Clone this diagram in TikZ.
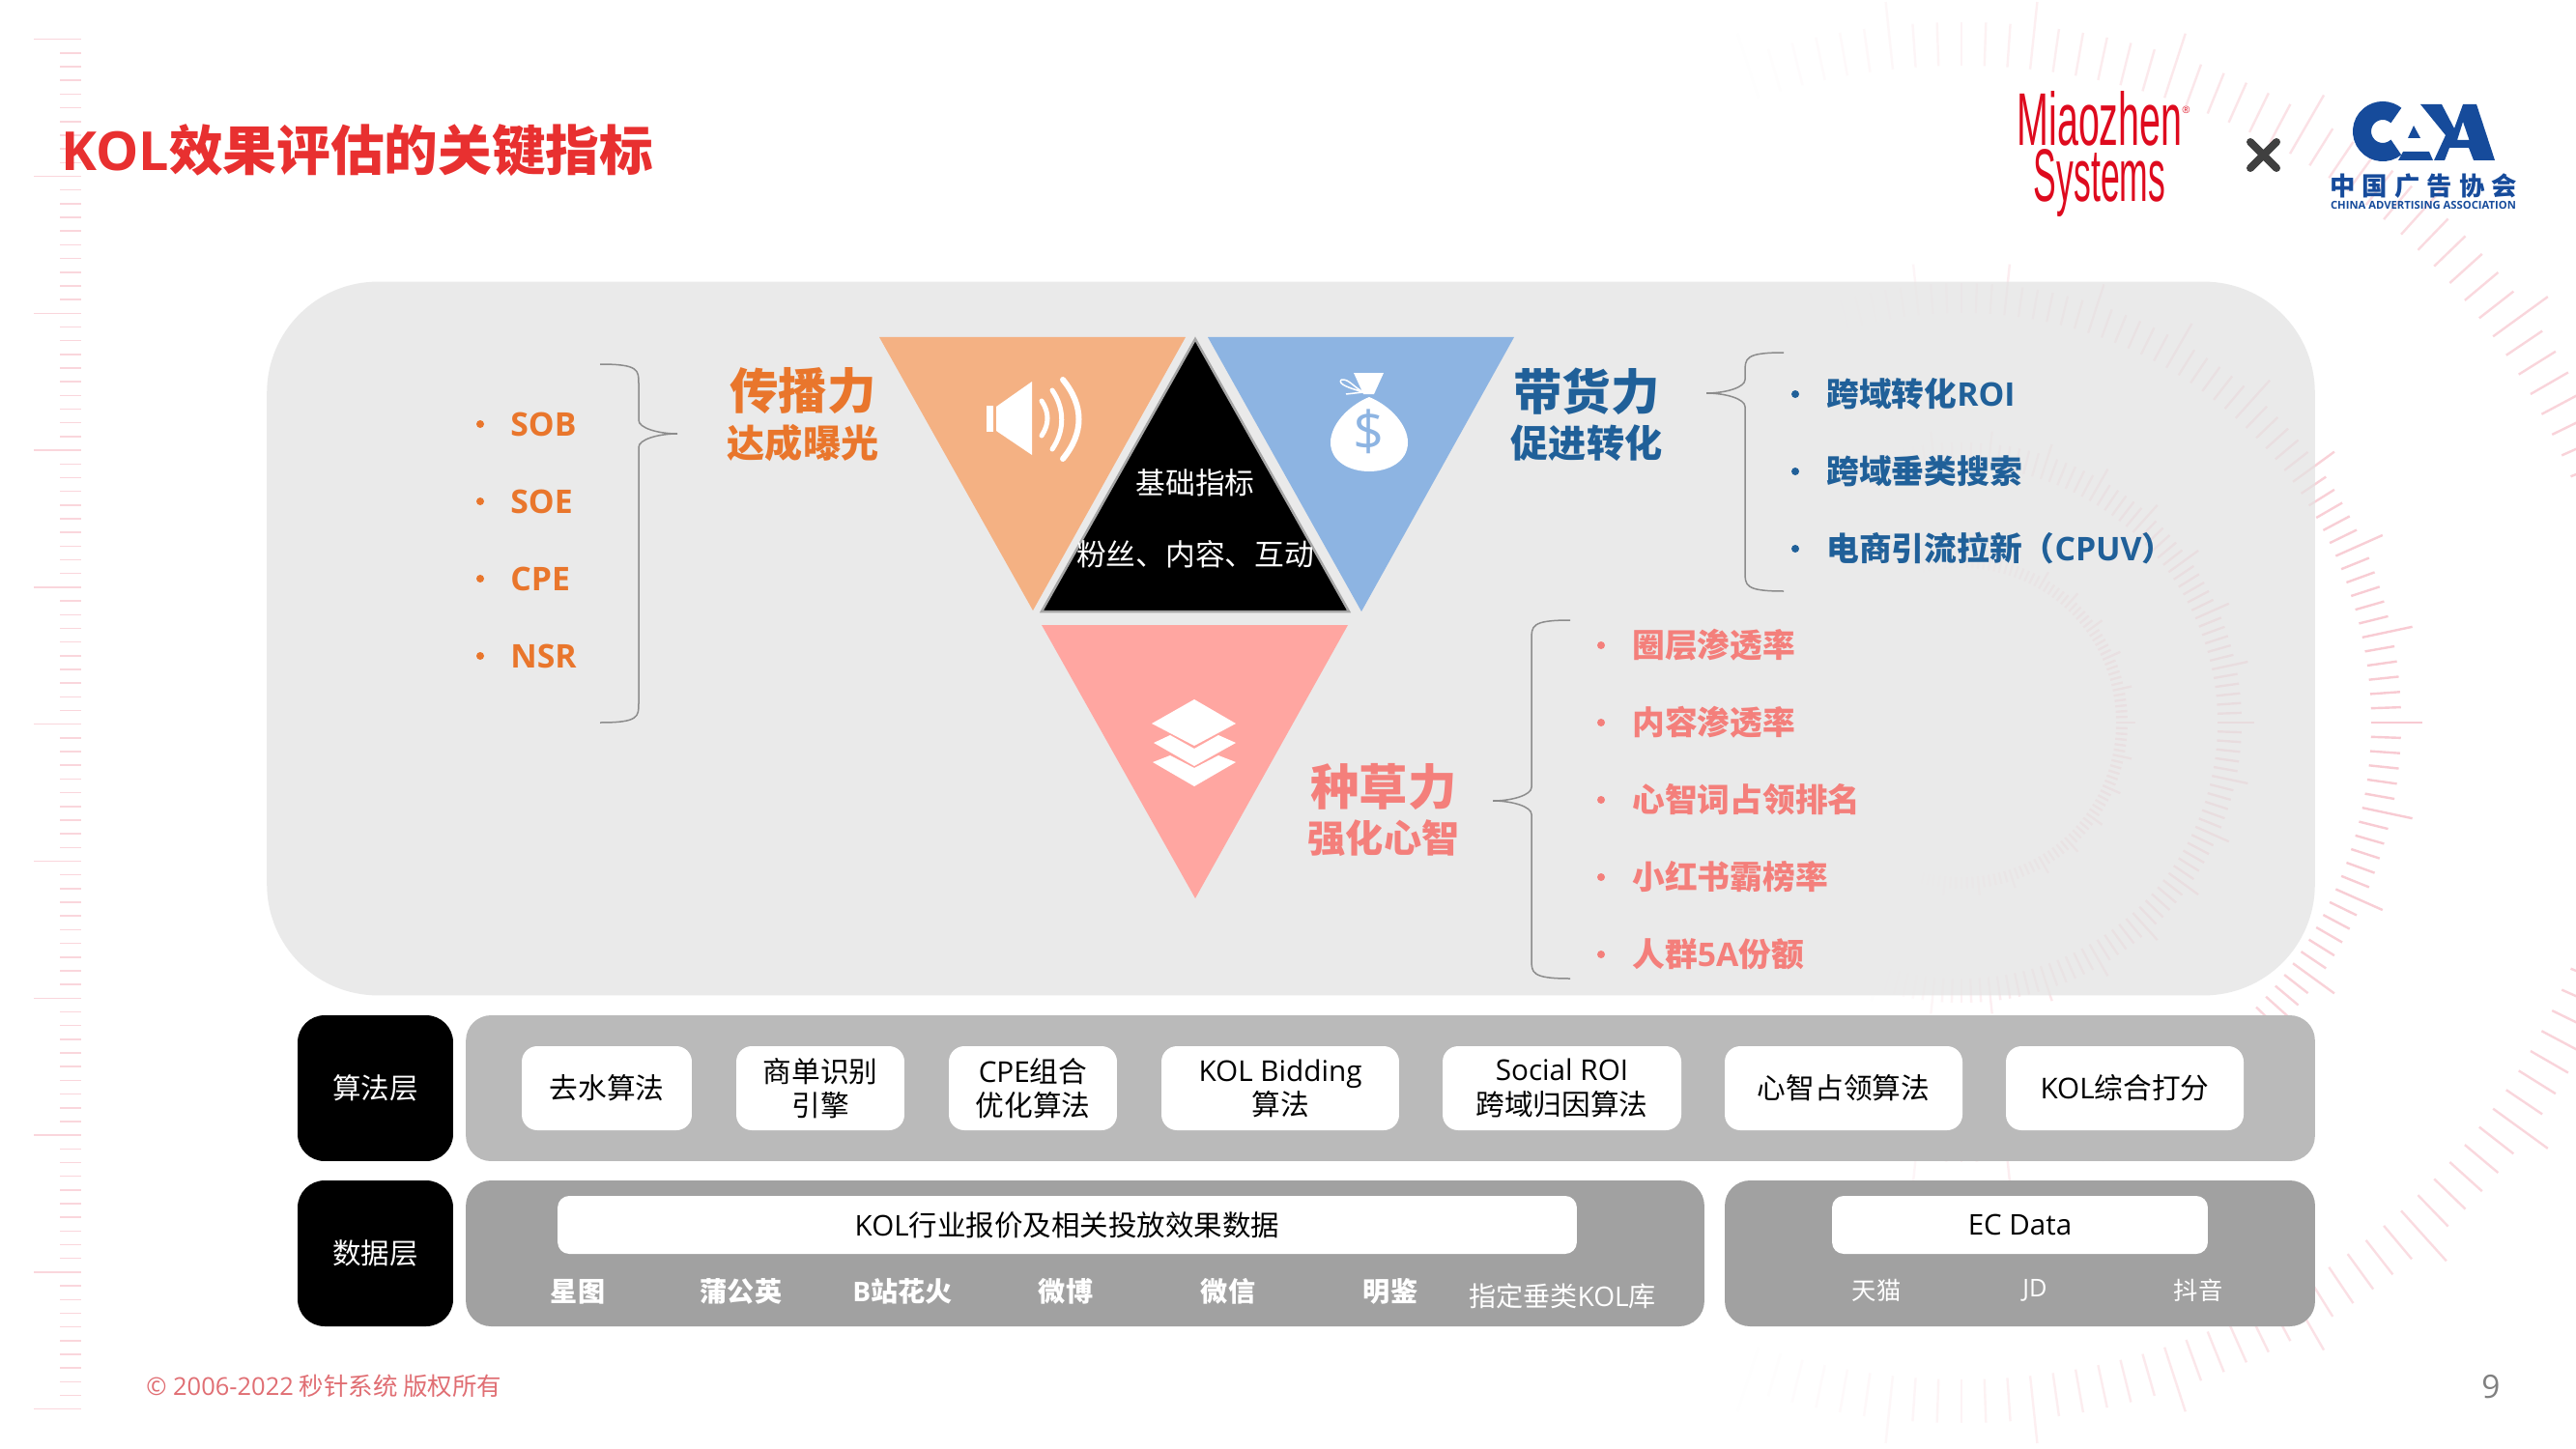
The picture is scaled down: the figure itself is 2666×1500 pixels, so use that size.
\documentclass[tikz,border=0pt]{standalone}
\usepackage{fontspec}
\setmainfont{Noto Sans CJK SC}
\newfontfamily\osans{Open Sans}
\newfontfamily\lsans{Liberation Sans}
\usetikzlibrary{positioning}
\definecolor{kolred}{RGB}{232,48,48}
\definecolor{kolorange}{RGB}{233,118,44}
\definecolor{kolblue}{RGB}{32,96,153}
\definecolor{kolpink}{RGB}{244,127,123}
\definecolor{caablue}{RGB}{22,75,155}
\definecolor{mzred}{RGB}{222,10,30}
\definecolor{ticka}{RGB}{248,200,208}
\definecolor{tripeach}{RGB}{244,177,131}
\definecolor{trisky}{RGB}{141,180,226}
\definecolor{trirose}{RGB}{255,166,161}
\newcommand{\kolbrace}[6]{\draw[bracket] (#1,#4) .. controls (#2,#4) and (#2,#4+6) .. (#2,#4+20) -- (#2,#5-14) .. controls (#2,#5-6) and (#2*0.5+#3*0.5,#5) .. (#3,#5) .. controls (#2*0.5+#3*0.5,#5) and (#2,#5+6) .. (#2,#5+14) -- (#2,#6-20) .. controls (#2,#6-6) and (#2,#6) .. (#1,#6);}
\tikzset{bracket/.style={draw=gray!90, line width=0.03cm}}
\tikzset{kpi/.style={anchor=west, inner sep=0pt, text height=14.6pt, text depth=0pt, font=\fontsize{19.2}{20}\selectfont\bfseries}}
\tikzset{head/.style={inner sep=0pt, font=\fontsize{28.7}{30}\selectfont\bfseries}}
\tikzset{sub/.style={inner sep=0pt, font=\fontsize{22.3}{24}\selectfont\bfseries}}
\tikzset{card/.style={fill=white, rounded corners=0.32cm, minimum height=1.74cm, inner sep=0pt, align=center, font=\fontsize{16.9}{20}\selectfont}}
\tikzset{bar/.style={fill=white, rounded corners=0.24cm, minimum height=1.2cm, inner sep=0pt, font=\fontsize{16.8}{20}\selectfont}}
\tikzset{layer/.style={fill=black, text=white, rounded corners=0.56cm, minimum width=3.22cm, minimum height=3.02cm, inner sep=0pt, font=\fontsize{16.8}{20}\selectfont}}
\tikzset{band/.style={rounded corners=0.52cm, minimum height=3.02cm, inner sep=0pt}}
\tikzset{src/.style={text=white, inner sep=0pt, font=\fontsize{16}{20}\selectfont}}
\tikzset{srcb/.style={src, font=\fontsize{16}{20}\selectfont\bfseries}}
\tikzset{srcl/.style={src, font=\fontsize{14.4}{20}\selectfont}}
\begin{document}
\begin{tikzpicture}[x=0.02cm, y=-0.02cm]
    \useasboundingbox (0,0) rectangle (2666,1500);
    \fill[white] (0,0) rectangle (2666,1500);

    % RULER AND RINGS
    \foreach \n in {0,...,100} {
        \pgfmathsetmacro{\ty}{40.7+14.18*\n}
        \pgfmathsetmacro{\tx}{mod(\n,10)==0 ? 35 : 62}
        \draw[ticka!75, line width=0.03cm] (\tx,\ty) -- (84,\ty);
    }
    \begin{scope}
        \clip (0,0) rectangle (2666,1500);
        \foreach \rin/\rshort/\rlong/\rop in {680/725/750/0.85, 424/455/477/0.95, 265/290/303/0.9, 160/172/180/0.7} {
            \foreach \a in {0,2,...,358} {
                \pgfmathsetmacro{\op}{max(0,\rop*(0.25+0.75*cos(\a)))}
                \pgfmathsetmacro{\rend}{mod(\a,12)==0 ? \rlong : \rshort}
                \draw[ticka, line width=0.048cm, opacity=\op, shift={(2030,748)}] (\a:\rin) -- (\a:\rend);
            }
        }
    \end{scope}

    \node (title) at (63,156) [anchor=west, inner sep=0pt, text=kolred, font=\fontsize{31.7}{36}\selectfont\bfseries] {{\osans KOL}效果评估的关键指标};

    % LOGOS
    \node (mz) at (2173,160) [inner sep=0pt, align=center, text=mzred, font=\fontsize{44}{33}\selectfont\lsans] {\scalebox{0.51}[1]{Miaozhen}\rlap{\raisebox{19pt}{\fontsize{6}{6}\selectfont ®}}\\\scalebox{0.46}[1]{Systems}};
    \draw[line width=0.16cm, line cap=round, black!75] (2329,147) -- (2356,174) (2356,147) -- (2329,174);
    \draw[caablue, line width=0.38cm] (2466,136) ++(50:21.5) arc[start angle=50, end angle=310, radius=21.5];
    \fill[caablue] (2498,130) -- (2505,143) -- (2492,143) -- cycle;
    \fill[caablue] (2487,157) -- (2514,157) -- (2518,166) -- (2482,166) -- cycle;
    \fill[caablue, even odd rule] (2505,108) -- (2527,108) -- (2540,133) -- (2549,108) -- (2563,108) -- (2582,166) -- (2560,166) -- (2555,153) -- (2535,153) -- (2530,166) -- (2519,166) -- (2531,140) -- cycle (2543,145) -- (2555.5,145) -- (2549,126) -- cycle;
    \node (caa) at (2508,193) [inner sep=0pt, text=caablue, font=\fontsize{15}{16}\selectfont\bfseries\addfontfeatures{LetterSpace=27}] {中国广告协会};
    \node (caaen) at (2508,212) [inner sep=0pt, text=caablue, font=\fontsize{6.4}{7}\selectfont\bfseries\osans] {CHINA ADVERTISING ASSOCIATION};

    % PANEL
    \node (panel) at (1336,661) [fill=black!11, opacity=0.72, rounded corners=2.3cm, minimum width=42.4cm, minimum height=14.78cm, inner sep=0pt] {};

    \fill[tripeach] (910,349) -- (1227,349) -- (1069,632) -- cycle;
    \fill[trisky] (1250,349) -- (1567,349) -- (1409,633) -- cycle;
    \fill[trirose] (1078,647) -- (1395,647) -- (1237,930) -- cycle;
    \draw[fill=black, draw=gray!70, line width=0.05cm] (1237,351) -- (1396,633) -- (1078,633) -- cycle;
    \node (base1) at (1237,500) [inner sep=0pt, text=white, font=\fontsize{17.5}{18}\selectfont] {基础指标};
    \node (base2) at (1237,574) [inner sep=0pt, text=white, font=\fontsize{17.5}{18}\selectfont] {粉丝、内容、互动};

    % ICONS
    \fill[white] (1021,420) rectangle (1028,447);
    \fill[white] (1031,421) -- (1068,395) -- (1068,471) -- (1031,446) -- cycle;
    \draw[white, line width=0.1cm, line cap=round] (1078,415) .. controls (1086,427) and (1086,439) .. (1078,451);
    \draw[white, line width=0.1cm, line cap=round] (1089,404) .. controls (1102,423) and (1102,446) .. (1089,465);
    \draw[white, line width=0.12cm, line cap=round] (1100,393) .. controls (1122,420) and (1122,448) .. (1100,475);
    \fill[white] (1401,386) -- (1432,386) -- (1422,408) -- (1411,408) -- cycle;
    \fill[white] (1417,411) .. controls (1395,420) and (1377,440) .. (1377,458) .. controls (1377,478) and (1397,488) .. (1417,488) .. controls (1437,488) and (1457,478) .. (1457,458) .. controls (1457,440) and (1439,420) .. (1417,411) -- cycle;
    \draw[white, line width=0.03cm] (1411,406) .. controls (1398,402) and (1384,398) .. (1388,393) (1411,406) .. controls (1400,400) and (1396,392) .. (1388,393) (1411,406) -- (1393,408);
    \node (usd) at (1417,447) [inner sep=0pt, text=trisky, font=\fontsize{32}{34}\selectfont\osans] {\$};
    \fill[white] (1192,749) -- (1236,724) -- (1279,749) -- (1236,772) -- cycle;
    \fill[white] (1194,769) -- (1211,761) -- (1236,775) -- (1261,761) -- (1279,769) -- (1236,793) -- cycle;
    \fill[white] (1193,789) -- (1211,782) -- (1236,795) -- (1261,782) -- (1279,789) -- (1236,814) -- cycle;

    % ORANGE
    \node (h1) at (831,405) [head, text=kolorange] {传播力};
    \node (s1) at (831,459) [sub, text=kolorange] {达成曝光};
    \kolbrace{621}{661}{701}{377}{449}{748}
    \fill[kolorange] (497,439) circle (4);
    \fill[kolorange] (497,519) circle (4);
    \fill[kolorange] (497,599) circle (4);
    \fill[kolorange] (497,679) circle (4);
    \node (sob) at (528,439) [kpi, text=kolorange] {\osans SOB};
    \node (soe) at (528,519) [kpi, text=kolorange] {\osans SOE};
    \node (cpe) at (528,599) [kpi, text=kolorange] {\osans CPE};
    \node (nsr) at (528,679) [kpi, text=kolorange] {\osans NSR};

    % BLUE
    \node (h2) at (1642,405) [head, text=kolblue] {带货力};
    \node (s2) at (1642,459) [sub, text=kolblue] {促进转化};
    \kolbrace{1846}{1806}{1766}{365}{407}{612}
    \fill[kolblue] (1858,408) circle (4);
    \fill[kolblue] (1858,488) circle (4);
    \fill[kolblue] (1858,568) circle (4);
    \node (roi) at (1890,408) [kpi, text=kolblue] {跨域转化{\osans ROI}};
    \node (srch) at (1890,488) [kpi, text=kolblue] {跨域垂类搜索};
    \node (cpuv) at (1890,568) [kpi, text=kolblue] {电商引流拉新（{\osans CPUV}）};

    % PINK
    \node (h3) at (1432,814) [head, text=kolpink] {种草力};
    \node (s3) at (1432,868) [sub, text=kolpink] {强化心智};
    \kolbrace{1625}{1585}{1545}{642}{829}{1013}
    \fill[kolpink] (1657,668) circle (4);
    \fill[kolpink] (1657,748) circle (4);
    \fill[kolpink] (1657,828) circle (4);
    \fill[kolpink] (1657,908) circle (4);
    \fill[kolpink] (1657,988) circle (4);
    \node (p1) at (1689,668) [kpi, text=kolpink] {圈层渗透率};
    \node (p2) at (1689,748) [kpi, text=kolpink] {内容渗透率};
    \node (p3) at (1689,828) [kpi, text=kolpink] {心智词占领排名};
    \node (p4) at (1689,908) [kpi, text=kolpink] {小红书霸榜率};
    \node (p5) at (1689,988) [kpi, text=kolpink] {人群{\osans 5A}份额};

    % ALGORITHM LAYER
    \node (algo) at (388.5,1126.5) [layer] {算法层};
    \node (algoband) at (1439,1126.5) [band, fill=black!27, minimum width=38.28cm] {};
    \node (c1) at (628,1126.5) [card, minimum width=3.52cm] {去水算法};
    \node (c2) at (849,1126.5) [card, minimum width=3.48cm] {商单识别\\引擎};
    \node (c3) at (1069,1126.5) [card, minimum width=3.48cm] {{\osans CPE}组合\\优化算法};
    \node (c4) at (1325,1126.5) [card, minimum width=4.92cm] {{\osans KOL Bidding}\\算法};
    \node (c5) at (1616.5,1126.5) [card, minimum width=4.94cm] {{\osans Social ROI}\\跨域归因算法};
    \node (c6) at (1908,1126.5) [card, minimum width=4.92cm] {心智占领算法};
    \node (c7) at (2199,1126.5) [card, minimum width=4.92cm] {{\osans KOL}综合打分};

    % DATA LAYER
    \node (data) at (388.5,1297.5) [layer] {数据层};
    \node (kolband) at (1123,1297.5) [band, fill=black!37, minimum width=25.64cm] {};
    \node (ecband) at (2090.5,1297.5) [band, fill=black!37, minimum width=12.22cm] {};
    \node (kolbar) at (1104.5,1268) [bar, minimum width=21.1cm] {{\osans KOL}行业报价及相关投放效果数据};
    \node (ecbar) at (2090.5,1268) [bar, minimum width=7.78cm] {{\osans EC Data}};
    \node (d1) at (598,1337) [srcb] {星图};
    \node (d2) at (767,1337) [srcb] {蒲公英};
    \node (d3) at (934,1337) [srcb] {{\osans B}站花火};
    \node (d4) at (1103,1337) [srcb] {微博};
    \node (d5) at (1271,1337) [srcb] {微信};
    \node (d6) at (1439,1337) [srcb] {明鉴};
    \node (d7) at (1617,1342) [src] {指定垂类{\osans KOL}库};
    \node (e1) at (1942,1336) [srcl] {天猫};
    \node (e2) at (2106,1336) [srcl] {\osans JD};
    \node (e3) at (2275,1336) [srcl] {抖音};

    \node (copy) at (151,1435) [anchor=west, inner sep=0pt, text={rgb,255:red,224;green,110;blue,115}, font=\fontsize{14.5}{16}\selectfont] {{\osans © 2006-2022} 秒针系统 版权所有};
    \node (page) at (2578,1436) [inner sep=0pt, text=black!50, font=\fontsize{19}{20}\selectfont\osans] {9};
\end{tikzpicture}
\end{document}
